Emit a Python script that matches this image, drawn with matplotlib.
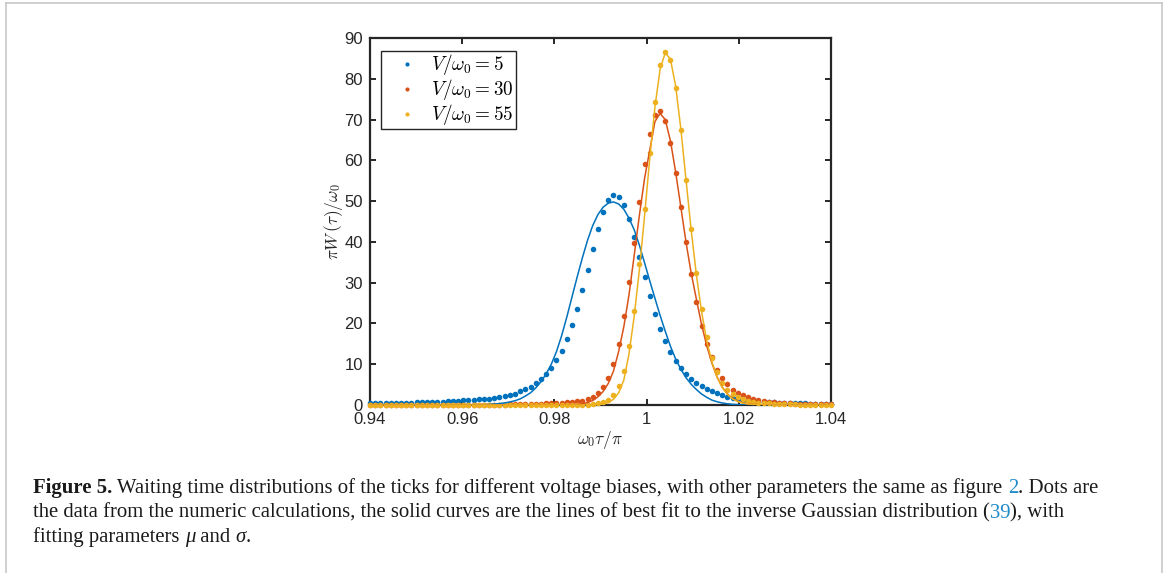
import matplotlib
matplotlib.use("Agg")
import matplotlib.pyplot as plt
from matplotlib.lines import Line2D

plt.rcParams['mathtext.fontset'] = 'cm'
plt.rcParams['font.family'] = ['Liberation Sans', 'DejaVu Sans']

# omega_0 tau / pi, shared grid of the numeric points and the fitted curves
tau = [0.94000, 0.94112, 0.94225, 0.94337, 0.94449, 0.94562, 0.94674, 0.94787, 0.94899, 0.95011,
       0.95124, 0.95236, 0.95348, 0.95461, 0.95573, 0.95685, 0.95798, 0.95910, 0.96022, 0.96135,
       0.96247, 0.96360, 0.96472, 0.96584, 0.96697, 0.96809, 0.96921, 0.97034, 0.97146, 0.97258,
       0.97371, 0.97483, 0.97596, 0.97708, 0.97820, 0.97933, 0.98045, 0.98157, 0.98270, 0.98382,
       0.98494, 0.98607, 0.98719, 0.98831, 0.98944, 0.99056, 0.99169, 0.99281, 0.99393, 0.99506,
       0.99618, 0.99730, 0.99843, 0.99955, 1.00067, 1.00180, 1.00292, 1.00404, 1.00517, 1.00629,
       1.00742, 1.00854, 1.00966, 1.01079, 1.01191, 1.01303, 1.01416, 1.01528, 1.01640, 1.01753,
       1.01865, 1.01978, 1.02090, 1.02202, 1.02315, 1.02427, 1.02539, 1.02652, 1.02764, 1.02876,
       1.02989, 1.03101, 1.03213, 1.03326, 1.03438, 1.03551, 1.03663, 1.03775, 1.03888, 1.04000]

# numeric results (dots), pi W(tau) / omega_0
w_v5 = [0.40, 0.42, 0.44, 0.46, 0.48, 0.51, 0.54, 0.57, 0.60, 0.63,
        0.66, 0.70, 0.74, 0.78, 0.82, 0.86, 0.90, 0.98, 1.14, 1.23,
        1.31, 1.39, 1.47, 1.55, 1.72, 1.88, 2.13, 2.45, 2.78, 3.35,
        3.84, 4.50, 5.39, 6.29, 7.60, 9.15, 10.95, 13.32, 16.18, 19.54,
        23.62, 28.3, 33.2, 38.3, 43.2, 47.3, 50.3, 51.5, 51.1, 49.0,
        45.5, 41.1, 36.3, 31.3, 26.7, 22.4, 18.7, 15.6, 12.9, 10.8,
        9.1, 7.6, 6.4, 5.5, 4.7, 3.9, 3.4, 2.9, 2.4, 2.0,
        1.7, 1.45, 1.25, 1.1, 0.95, 0.85, 0.75, 0.68, 0.62, 0.56,
        0.51, 0.47, 0.44, 0.41, 0.38, 0.36, 0.34, 0.32, 0.30, 0.29]

w_v30 = [0.05, 0.05, 0.05, 0.05, 0.05, 0.05, 0.05, 0.05, 0.05, 0.05,
         0.05, 0.05, 0.05, 0.05, 0.05, 0.05, 0.05, 0.05, 0.05, 0.05,
         0.06, 0.07, 0.08, 0.09, 0.10, 0.11, 0.12, 0.14, 0.16, 0.18,
         0.21, 0.24, 0.28, 0.32, 0.37, 0.42, 0.48, 0.55, 0.64, 0.78,
         0.90, 1.05, 1.4, 2.0, 3.0, 4.4, 6.6, 10.1, 15.0, 21.8,
         30.1, 39.7, 49.7, 59.0, 66.4, 71.1, 72.2, 69.7, 64.3, 57.0,
         48.6, 40.0, 32.2, 25.2, 19.4, 14.9, 11.7, 8.6, 6.6, 5.1,
         3.8, 3.0, 2.4, 1.9, 1.5, 1.2, 1.0, 0.85, 0.7, 0.6,
         0.5, 0.42, 0.36, 0.31, 0.27, 0.23, 0.2, 0.18, 0.16, 0.14]

w_v55 = [0.0, 0.0, 0.0, 0.0, 0.0, 0.0, 0.0, 0.0, 0.0, 0.0,
         0.0, 0.0, 0.0, 0.0, 0.0, 0.0, 0.0, 0.0, 0.0, 0.0,
         0.0, 0.0, 0.0, 0.0, 0.0, 0.0, 0.0, 0.0, 0.0, 0.0,
         0.0, 0.0, 0.0, 0.0, 0.0, 0.01, 0.01, 0.02, 0.02, 0.03,
         0.04, 0.05, 0.1, 0.2, 0.4, 0.7, 1.3, 2.5, 4.6, 8.4,
         14.4, 23.1, 34.6, 48.0, 61.9, 74.3, 83.3, 86.5, 84.6, 77.7,
         67.4, 55.2, 43.2, 32.4, 23.5, 16.6, 11.5, 8.1, 5.5, 3.8,
         2.7, 2.0, 1.4, 1.1, 0.8, 0.6, 0.5, 0.4, 0.3, 0.25,
         0.2, 0.17, 0.14, 0.12, 0.1, 0.09, 0.08, 0.07, 0.06, 0.05]

# inverse Gaussian fits (solid curves), read on the same grid
fit_v5 = [0.0, 0.0, 0.0, 0.0, 0.0, 0.0, 0.0, 0.0, 0.0, 0.0,
          0.0, 0.0, 0.0, 0.0, 0.0, 0.0, 0.0, 0.0, 0.0, 0.0,
          0.0, 0.02, 0.05, 0.12, 0.24, 0.35, 0.52, 0.75, 1.05, 1.5,
          2.2, 3.0, 4.2, 5.7, 7.6, 10.0, 13.1, 17.0, 21.6, 26.5,
          31.4, 36.1, 40.4, 44.0, 46.7, 48.5, 49.5, 49.8, 49.3, 48.0,
          45.8, 43.0, 39.2, 34.9, 30.5, 26.2, 22.0, 18.1, 14.4, 11.3,
          8.8, 6.7, 5.1, 3.8, 2.7, 1.9, 1.2, 0.8, 0.5, 0.3,
          0.17, 0.1, 0.05, 0.03, 0.02, 0.01, 0.01, 0.0, 0.0, 0.0,
          0.0, 0.0, 0.0, 0.0, 0.0, 0.0, 0.0, 0.0, 0.0, 0.0]

fit_v30 = [0.0, 0.0, 0.0, 0.0, 0.0, 0.0, 0.0, 0.0, 0.0, 0.0,
           0.0, 0.0, 0.0, 0.0, 0.0, 0.0, 0.0, 0.0, 0.0, 0.0,
           0.0, 0.0, 0.0, 0.0, 0.0, 0.0, 0.0, 0.0, 0.0, 0.0,
           0.0, 0.0, 0.0, 0.0, 0.0, 0.0, 0.0, 0.01, 0.02, 0.05,
           0.12, 0.3, 0.6, 1.1, 2.0, 3.3, 5.3, 8.3, 13.1, 19.2,
           27.0, 36.6, 46.5, 55.5, 62.4, 69.5, 71.5, 70.0, 64.8, 57.2,
           48.6, 40.0, 32.4, 26.0, 19.8, 14.6, 10.3, 6.9, 4.4, 2.7,
           1.6, 0.9, 0.5, 0.27, 0.14, 0.07, 0.03, 0.01, 0.0, 0.0,
           0.0, 0.0, 0.0, 0.0, 0.0, 0.0, 0.0, 0.0, 0.0, 0.0]

fit_v55 = [0.0, 0.0, 0.0, 0.0, 0.0, 0.0, 0.0, 0.0, 0.0, 0.0,
           0.0, 0.0, 0.0, 0.0, 0.0, 0.0, 0.0, 0.0, 0.0, 0.0,
           0.0, 0.0, 0.0, 0.0, 0.0, 0.0, 0.0, 0.0, 0.0, 0.0,
           0.0, 0.0, 0.0, 0.0, 0.0, 0.0, 0.0, 0.0, 0.0, 0.0,
           0.0, 0.0, 0.01, 0.03, 0.1, 0.25, 0.6, 1.4, 3.0, 6.1,
           12.5, 21.7, 33.1, 46.3, 60.3, 73.0, 82.3, 86.4, 84.8, 78.3,
           67.8, 55.3, 43.0, 32.0, 23.0, 15.8, 10.6, 6.8, 4.3, 2.6,
           1.5, 0.85, 0.47, 0.25, 0.13, 0.06, 0.03, 0.01, 0.0, 0.0,
           0.0, 0.0, 0.0, 0.0, 0.0, 0.0, 0.0, 0.0, 0.0, 0.0]

labels = [r'$V/\omega_0 = 5$', r'$V/\omega_0 = 30$', r'$V/\omega_0 = 55$']
colors = ['#0072BD', '#D95319', '#EDB120']

x_ticks = [0.94, 0.96, 0.98, 1.0, 1.02, 1.04]
x_ticklabels = ['0.94', '0.96', '0.98', '1', '1.02', '1.04']
y_ticks = [0, 10, 20, 30, 40, 50, 60, 70, 80, 90]

W, H = 1165, 573
fig = plt.figure(figsize=(W / 100, H / 100), dpi=100)
ax = fig.add_axes([370 / W, 1 - 405 / H, 461 / W, 367 / H])

dark = '#262626'
handles = []
for w, lab, c in zip([w_v5, w_v30, w_v55], labels, colors):
    h, = ax.plot(tau, w, 'o', ms=4.0, mew=0, color=c, label=lab, clip_on=False, zorder=3)
    handles.append(h)
for f, c in zip([fit_v5, fit_v30, fit_v55], colors):
    ax.plot(tau, f, '-', lw=1.1, color=c, zorder=4)

ax.set_xlim(0.94, 1.04)
ax.set_ylim(0, 90)
ax.set_xticks(x_ticks)
ax.set_xticklabels(x_ticklabels)
ax.set_yticks(y_ticks)
ax.tick_params(direction='in', length=4.5, width=1.4, top=True, right=True,
               labelsize=12, colors=dark, pad=5)
for s in ax.spines.values():
    s.set_linewidth(1.6)
    s.set_color(dark)

leg = ax.legend(handles=handles, loc='upper left', bbox_to_anchor=(11 / 461, (405 - 50.5) / 367),
                borderaxespad=0, fontsize=13.8, frameon=True, fancybox=False, framealpha=1,
                edgecolor=dark, markerscale=0.75, handlelength=2.55, handletextpad=-0.02,
                borderpad=0.1, labelspacing=0.0)
leg.get_frame().set_linewidth(1.0)

fig.text(333 / W, 1 - 222 / H, r'$\pi W\,(\tau)/\omega_0$', rotation=90, ha='center', va='center',
         fontsize=12.5, color=dark)
fig.text(600 / W, 1 - 440 / H, r'$\omega_0\tau/\pi$', ha='center', va='center', fontsize=12.5, color=dark)

# caption below the plot
serif = ['Liberation Serif', 'DejaVu Serif']
link = '#1f8bc8'
r = fig.canvas.get_renderer()


def adv(s, size, style):
    kw = dict(fontsize=size, family=serif)
    if style == 'bold':
        kw['fontweight'] = 'bold'
    if style == 'italic':
        kw['fontstyle'] = 'italic'
    t = fig.text(0, 0, '|' + s + '|', **kw)
    w1 = t.get_window_extent(r).width
    t.set_text('||')
    w0 = t.get_window_extent(r).width
    t.remove()
    return w1 - w0, kw


def draw_line(parts, x0, y_px, size):
    x = x0
    for s, style in parts:
        w, kw = adv(s, size, style)
        col = link if style == 'link' else '#1a1a1a'
        fig.text(x / W, 1 - y_px / H, s, va='baseline', ha='left', color=col, **kw)
        x += w


line1 = [('Figure 5.', 'bold'),
         (' Waiting time distributions of the ticks for different voltage biases, with other parameters the same as figure ', 'normal'),
         ('2', 'link'), ('. Dots are', 'normal')]
line2 = [('the data from the numeric calculations, the solid curves are the lines of best fit to the inverse Gaussian distribution (', 'normal'),
         ('39', 'link'), ('), with', 'normal')]
line3 = [('fitting parameters ', 'normal'), ('\u03bc', 'italic'), (' and ', 'normal'),
         ('\u03c3', 'italic'), ('.', 'normal')]

ref = sum(adv(s, 10, st)[0] for s, st in line1)
cap_size = 10 * (1104 - 33) / ref
draw_line(line1, 33, 493.3, cap_size)
draw_line(line2, 33, 517.7, cap_size)
draw_line(line3, 33, 541.7, cap_size)

# light frame round the figure panel
edge = '#c8c8c8'
fig.add_artist(Line2D([5.5 / W, 5.5 / W], [0, 1 - 3.3 / H], transform=fig.transFigure, color=edge, lw=1.2))
fig.add_artist(Line2D([1162 / W, 1162 / W], [0, 1 - 3.3 / H], transform=fig.transFigure, color=edge, lw=1.2))
fig.add_artist(Line2D([5.5 / W, 1162 / W], [1 - 3.3 / H, 1 - 3.3 / H], transform=fig.transFigure, color=edge, lw=1.2))

fig.savefig('out.png', dpi=100)
